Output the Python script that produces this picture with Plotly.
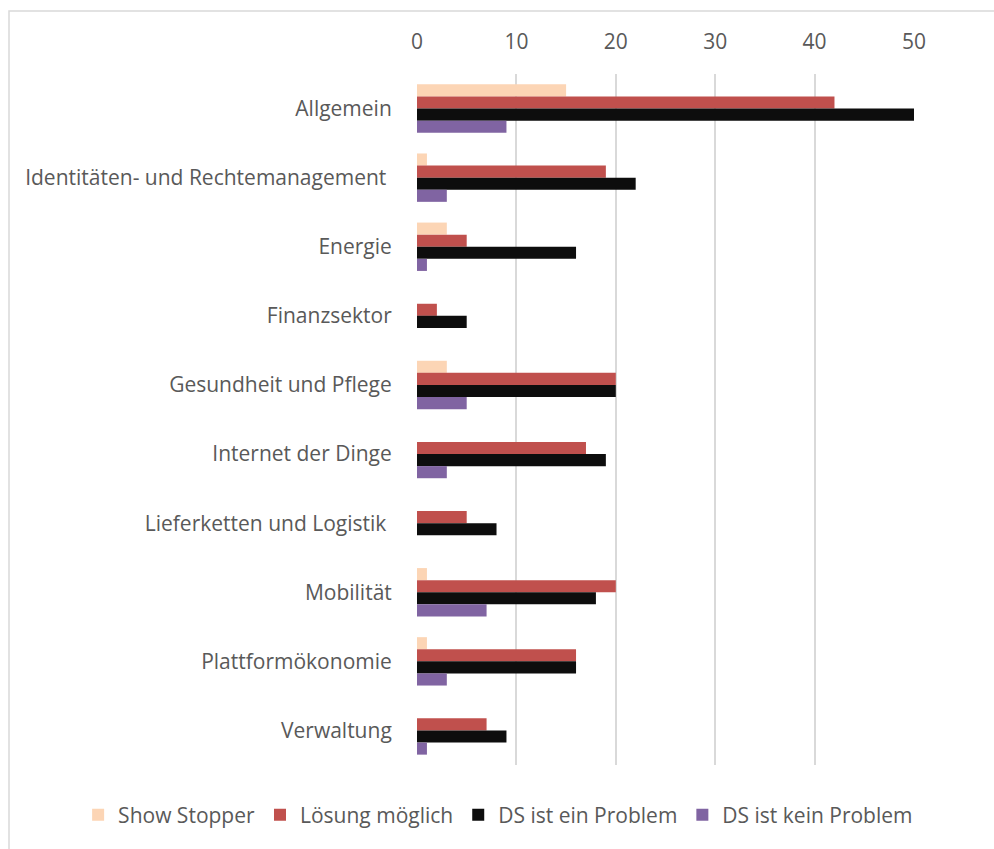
import plotly.graph_objects as go

# Categories (top to bottom) and counts per assessment
categories = [
    "Allgemein",
    "Identitäten- und Rechtemanagement ",
    "Energie",
    "Finanzsektor",
    "Gesundheit und Pflege",
    "Internet der Dinge",
    "Lieferketten und Logistik ",
    "Mobilität",
    "Plattformökonomie",
    "Verwaltung",
]
show_stopper = [15, 1, 3, 0, 3, 0, 0, 1, 1, 0]
loesung_moeglich = [42, 19, 5, 2, 20, 17, 5, 20, 16, 7]
ds_problem = [50, 22, 16, 5, 20, 19, 8, 18, 16, 9]
ds_kein_problem = [9, 3, 1, 0, 5, 3, 0, 7, 3, 1]
x_ticks = [0, 10, 20, 30, 40, 50]

series = [
    ("Show Stopper", show_stopper, "#FCD5B5"),
    ("Lösung möglich", loesung_moeglich, "#C0504D"),
    ("DS ist ein Problem", ds_problem, "#0D0D0D"),
    ("DS ist kein Problem", ds_kein_problem, "#8064A2"),
]

FONT = "Open Sans"
TEXT = "#595959"
FS = 21

fig = go.Figure()
for name, vals, color in series:
    fig.add_trace(go.Bar(
        y=categories, x=vals, name=name, orientation="h",
        marker=dict(color=color, line=dict(width=0)),
    ))

W, H = 994, 849
L, R, T, B = 417, 80, 74, 84
pw, ph = W - L - R, H - T - B

fig.update_layout(
    width=W, height=H,
    margin=dict(l=L, r=R, t=T, b=B),
    paper_bgcolor="white", plot_bgcolor="white",
    barmode="group", bargap=0.3, bargroupgap=0,
    font=dict(family=FONT, size=FS, color=TEXT),
    showlegend=True,
    legend=dict(
        orientation="h", x=(98 - L) / pw - 0.04, xanchor="left",
        y=(H - B - 815) / ph, yanchor="middle",
        font=dict(family=FONT, size=FS, color=TEXT),
        traceorder="normal",
    ),
    xaxis=dict(
        side="top", range=[0, 50], tickvals=x_ticks,
        showgrid=True, gridcolor="#D9D9D9", gridwidth=2,
        zeroline=False, showline=False,
        ticks="outside", ticklen=16, tickcolor="rgba(0,0,0,0)",
        tickfont=dict(size=FS, color=TEXT),
    ),
    yaxis=dict(
        autorange="reversed", showgrid=False, zeroline=False, showline=False,
        ticks="outside", ticklen=20, tickcolor="rgba(0,0,0,0)",
        tickfont=dict(size=FS, color=TEXT),
    ),
    shapes=[
        dict(type="rect", xref="paper", yref="paper",
             x0=(9 - L) / pw, x1=2.0,
             y0=-1.0, y1=1 + (T - 11) / ph,
             line=dict(color="#D9D9D9", width=1.5), fillcolor="rgba(0,0,0,0)",
             layer="below"),
    ],
)

fig.write_html("out.html")
